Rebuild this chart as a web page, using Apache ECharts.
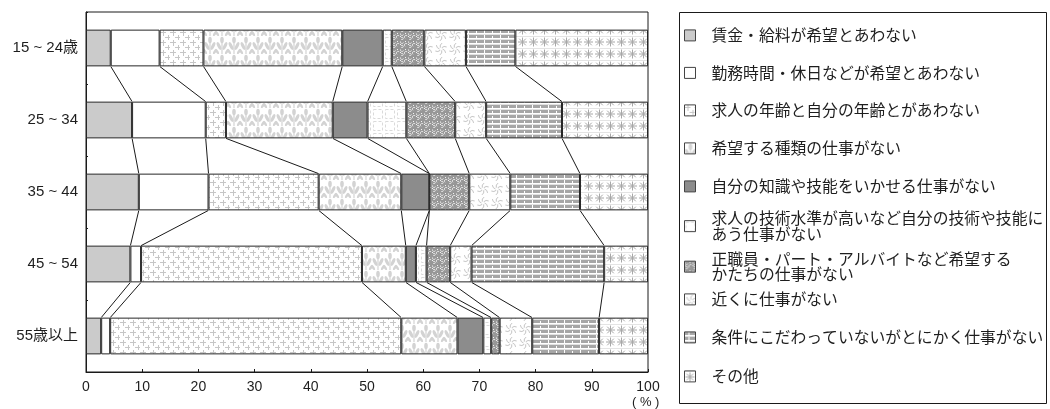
<!DOCTYPE html>
<html lang="ja">
<head>
<meta charset="utf-8">
<title>仕事につけない理由（年齢階級別）</title>
<script src="https://cdn.jsdelivr.net/npm/echarts@6/dist/echarts.min.js"></script>
<style>
  html, body { margin: 0; padding: 0; background: #fff; }
  #chart { width: 1050px; height: 409px; }
</style>
</head>
<body>
<div id="chart"></div>
<script>
// 年齢階級（上から順に表示）
const ageGroups = ['15 ~ 24歳', '25 ~ 34', '35 ~ 44', '45 ~ 54', '55歳以上'];

// 仕事につけない理由
const reasons = [
  '賃金・給料が希望とあわない',
  '勤務時間・休日などが希望とあわない',
  '求人の年齢と自分の年齢とがあわない',
  '希望する種類の仕事がない',
  '自分の知識や技能をいかせる仕事がない',
  '求人の技術水準が高いなど自分の技術や技能に\nあう仕事がない',
  '正職員・パート・アルバイトなど希望する\nかたちの仕事がない',
  '近くに仕事がない',
  '条件にこだわっていないがとにかく仕事がない',
  'その他'
];

// 構成比（%）: 各配列は年齢階級の順
const wage           = [4.4, 8.2, 9.4, 7.9, 2.7];
const workHours      = [8.7, 13.1, 12.4, 1.9, 1.6];
const ageMismatch    = [7.8, 3.6, 19.6, 39.3, 51.8];
const jobType        = [24.7, 19.0, 14.7, 7.8, 10.0];
const useSkills      = [7.2, 6.2, 5.0, 1.8, 4.6];
const skillLevel     = [1.6, 6.9, 0.0, 1.9, 1.4];
const employmentForm = [5.8, 8.7, 7.1, 4.2, 1.5];
const nearby         = [7.4, 5.5, 7.3, 3.8, 5.8];
const anyJob         = [8.8, 13.5, 12.4, 23.6, 11.9];
const other          = [23.6, 15.3, 12.1, 7.8, 8.7];

const seriesValues = [wage, workHours, ageMismatch, jobType, useSkills,
                      skillLevel, employmentForm, nearby, anyJob, other];

const xTicks = [0, 10, 20, 30, 40, 50, 60, 70, 80, 90, 100];

// ---- layout ----
const BAR_RATIO = 0.51;
const legendTops = [27.5, 65, 102.5, 140.5, 178.5, 210.5, 251, 291.5, 329.5, 368.5];
const FONT = '"Liberation Sans", Arial, "Noto Sans CJK JP", sans-serif';
const JFONT = '"Noto Sans CJK JP", "Liberation Sans", sans-serif';

// ---- hatch / texture fills ----
function tile(w, h, draw) {
  const c = document.createElement('canvas');
  c.width = w; c.height = h;
  const g = c.getContext('2d');
  g.fillStyle = '#ffffff';
  g.fillRect(0, 0, w, h);
  draw(g, w, h);
  return { image: c, repeat: 'repeat' };
}

const fills = [
  // 賃金
  '#cbcbcb',
  // 勤務時間
  '#ffffff',
  // 年齢: dashed crosses
  tile(10, 10, (g) => {
    g.strokeStyle = '#c6c6c6'; g.lineWidth = 1;
    g.beginPath();
    g.moveTo(0, 2.5); g.lineTo(6, 2.5);
    g.moveTo(3.5, 0); g.lineTo(3.5, 6);
    g.moveTo(5, 7.5); g.lineTo(10, 7.5);
    g.moveTo(8.5, 5); g.lineTo(8.5, 10);
    g.stroke();
  }),
  // 種類: tulip / leaf motif
  tile(12, 18, (g) => {
    g.fillStyle = '#d3d3d3';
    g.strokeStyle = '#d3d3d3';
    g.lineWidth = 1.2;
    g.beginPath(); g.moveTo(6, 5); g.lineTo(6, 18); g.stroke();
    g.beginPath(); g.ellipse(6, 4, 1.8, 3.2, 0, 0, Math.PI * 2); g.fill();
    g.beginPath(); g.ellipse(3, 10, 1.6, 4.2, -0.45, 0, Math.PI * 2); g.fill();
    g.beginPath(); g.ellipse(9, 10, 1.6, 4.2, 0.45, 0, Math.PI * 2); g.fill();
    g.beginPath(); g.ellipse(1, 15.5, 1.3, 3, -0.6, 0, Math.PI * 2); g.fill();
    g.beginPath(); g.ellipse(11, 15.5, 1.3, 3, 0.6, 0, Math.PI * 2); g.fill();
  }),
  // 知識・技能
  '#8c8c8c',
  // 技術水準: faint dashed squares
  tile(12, 12, (g) => {
    g.strokeStyle = '#dadada'; g.lineWidth = 1;
    g.setLineDash([3, 2]);
    g.strokeRect(1.5, 1.5, 9, 9);
  }),
  // 雇用形態: mottled dark
  tile(8, 8, (g) => {
    g.fillStyle = '#979797';
    g.fillRect(0, 0, 8, 8);
    g.strokeStyle = '#e6e6e6'; g.lineWidth = 1;
    g.beginPath(); g.arc(2, 2, 1.5, 0.3, 3.6); g.stroke();
    g.beginPath(); g.arc(6, 5, 1.6, 2.2, 5.6); g.stroke();
    g.beginPath(); g.arc(2, 6.5, 1.2, 4, 8.5); g.stroke();
    g.fillStyle = '#f2f2f2';
    g.fillRect(5, 1, 1, 1);
    g.fillRect(0, 4, 1, 1);
  }),
  // 近くに: curved six-armed swirls
  tile(14, 14, (g) => {
    g.strokeStyle = '#c4c4c4'; g.lineWidth = 1;
    const cx = 7, cy = 7;
    for (let a = 0; a < 6; a++) {
      const t = a * Math.PI / 3;
      g.beginPath();
      g.moveTo(cx + 1.5 * Math.cos(t), cy + 1.5 * Math.sin(t));
      g.quadraticCurveTo(cx + 4.5 * Math.cos(t + 0.2), cy + 4.5 * Math.sin(t + 0.2),
                         cx + 6 * Math.cos(t + 0.7), cy + 6 * Math.sin(t + 0.7));
      g.stroke();
    }
  }),
  // とにかく: brick stripes
  tile(16, 5, (g) => {
    g.fillStyle = '#a6a6a6';
    g.fillRect(0, 0, 16, 3);
    g.fillStyle = '#ffffff';
    g.fillRect(4, 0, 1, 3);
    g.fillRect(12, 1, 1, 2);
    g.fillStyle = '#e2e2e2';
    g.fillRect(0, 4, 16, 1);
  }),
  // その他: asterisks
  tile(11, 12, (g) => {
    g.strokeStyle = '#a8a8a8'; g.lineWidth = 1;
    const cx = 5.5, cy = 6;
    g.beginPath();
    g.moveTo(cx - 4.5, cy); g.lineTo(cx + 4.5, cy);
    g.moveTo(cx, cy - 4.5); g.lineTo(cx, cy + 4.5);
    g.moveTo(cx - 3.3, cy - 3.3); g.lineTo(cx + 3.3, cy + 3.3);
    g.moveTo(cx - 3.3, cy + 3.3); g.lineTo(cx + 3.3, cy - 3.3);
    g.stroke();
    g.strokeStyle = '#e4e4e4';
    g.beginPath(); g.moveTo(0, 0.5); g.lineTo(11, 0.5); g.stroke();
  })
];

// ---- connector lines between neighbouring bars ----
const cumulative = ageGroups.map((_, row) => {
  let s = 0;
  return seriesValues.map(v => (s += v[row]));
});
const connectors = [];
for (let row = 0; row < ageGroups.length - 1; row++) {
  for (let k = 0; k < seriesValues.length - 1; k++) {
    connectors.push([cumulative[row][k], row, cumulative[row + 1][k], row + 1]);
  }
}

const barSeries = reasons.map((name, i) => ({
  name,
  type: 'bar',
  stack: 'share',
  barWidth: (BAR_RATIO * 100) + '%',
  data: seriesValues[i],
  itemStyle: { color: fills[i], borderColor: '#262626', borderWidth: 1 },
  emphasis: { disabled: true },
  animation: false
}));

const connectorSeries = {
  type: 'custom',
  name: 'connectors',
  silent: true,
  animation: false,
  clip: false,
  data: connectors,
  encode: { x: [0, 2], y: [1, 3] },
  renderItem(params, api) {
    const a = api.coord([api.value(0), api.value(1)]);
    const b = api.coord([api.value(2), api.value(3)]);
    const half = api.size([0, 1])[1] * BAR_RATIO / 2;
    return {
      type: 'line',
      shape: { x1: a[0], y1: a[1] + half, x2: b[0], y2: b[1] - half },
      style: { stroke: '#1a1a1a', lineWidth: 1 }
    };
  }
};

const legends = reasons.map((name, i) => ({
  data: [name],
  orient: 'vertical',
  left: 684,
  top: legendTops[i],
  padding: 0,
  itemGap: 0,
  itemWidth: 11,
  itemHeight: 11,
  icon: 'rect',
  selectedMode: false,
  itemStyle: { borderColor: '#444', borderWidth: 1 },
  textStyle: {
    fontFamily: JFONT, fontSize: 15.8, lineHeight: 15.5, color: '#1e1e1e',
    padding: [0, 0, 0, 11]
  }
}));

const chart = echarts.init(document.getElementById('chart'), null, { renderer: 'canvas' });
chart.setOption({
  animation: false,
  backgroundColor: '#ffffff',
  grid: {
    left: 86, right: 402, top: 12, bottom: 37,
    show: true, borderColor: '#1a1a1a', borderWidth: 1, backgroundColor: 'transparent'
  },
  xAxis: {
    type: 'value',
    min: xTicks[0],
    max: xTicks[xTicks.length - 1],
    interval: xTicks[1] - xTicks[0],
    axisLine: { show: true, lineStyle: { color: '#1a1a1a', width: 1 } },
    axisTick: { show: true, inside: true, length: 3, lineStyle: { color: '#1a1a1a' } },
    splitLine: { show: false },
    axisLabel: { fontFamily: FONT, fontSize: 14, color: '#1e1e1e', margin: 8 }
  },
  yAxis: {
    type: 'category',
    data: ageGroups,
    inverse: true,
    axisLine: { show: true, lineStyle: { color: '#1a1a1a', width: 1 } },
    axisTick: { show: true, inside: true, length: 2, lineStyle: { color: '#1a1a1a' } },
    axisLabel: { fontFamily: FONT, fontSize: 15, color: '#1e1e1e', margin: 8 }
  },
  legend: legends,
  graphic: [
    {
      type: 'rect',
      shape: { x: 679.5, y: 12.5, width: 367, height: 391 },
      style: { fill: 'none', stroke: '#1a1a1a', lineWidth: 1 },
      silent: true
    },
    {
      type: 'text',
      left: 632,
      top: 396,
      style: { text: '( % )', font: '13px ' + FONT, fill: '#1e1e1e' },
      silent: true
    }
  ],
  series: [...barSeries, connectorSeries]
});
</script>
</body>
</html>
